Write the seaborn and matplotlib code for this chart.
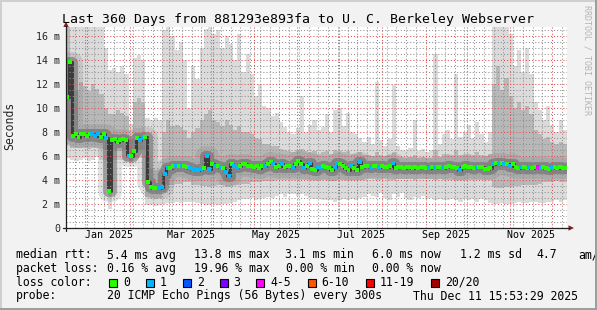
import numpy as np
import pandas as pd
import matplotlib
matplotlib.use("Agg")
import matplotlib.pyplot as plt
import seaborn as sns
from matplotlib.patches import Rectangle, Polygon
from matplotlib.lines import Line2D
from matplotlib.ticker import FixedLocator, NullFormatter

# ---------------- data ----------------
start_time = pd.Timestamp("2024-12-16 15:53:29")
span_days = 360

# median RTT (ms), one value every 2 days
median_ms = [
    10.9, 13.8, 7.7, 7.8, 7.6, 7.8, 7.8, 7.7, 7.8, 7.8, 7.7, 7.8, 7.6, 7.8, 7.5, 3.1, 7.3, 7.4, 7.2, 7.3,
    7.4, 7.3, 6.0, 6.0, 6.4, 7.5, 7.3, 7.5, 7.6, 3.8, 3.4, 3.3, 3.3, 3.3, 3.4, 4.5, 5.0, 5.0, 5.2, 5.2,
    5.2, 5.2, 5.2, 5.1, 5.0, 4.9, 4.8, 4.8, 4.9, 5.0, 6.0, 4.9, 5.3, 5.2, 5.2, 5.1, 5.0, 4.7, 4.3, 5.3,
    5.2, 5.1, 5.2, 5.3, 5.3, 5.2, 5.2, 5.1, 5.2, 5.0, 5.2, 5.2, 5.3, 5.5, 5.3, 5.1, 5.2, 5.3, 5.1, 5.2,
    5.2, 5.1, 5.3, 5.6, 5.3, 5.0, 5.2, 5.4, 4.9, 4.8, 5.1, 5.1, 5.2, 5.1, 5.0, 4.8, 5.1, 5.4, 5.3, 5.2,
    5.0, 4.8, 5.2, 5.0, 4.8, 5.5, 5.1, 5.2, 5.2, 5.1, 5.2, 5.2, 5.1, 5.2, 5.1, 5.1, 5.2, 5.4, 5.0, 5.1,
    5.1, 5.0, 5.1, 5.1, 5.0, 5.1, 5.0, 5.1, 5.1, 5.0, 5.0, 5.1, 5.0, 5.1, 5.1, 5.0, 5.1, 5.2, 5.1, 5.1,
    5.0, 4.8, 5.1, 5.2, 5.1, 5.1, 5.0, 5.1, 5.1, 5.1, 4.9, 4.9, 5.0, 5.3, 5.4, 5.3, 5.4, 5.3, 5.3, 5.2,
    5.3, 5.1, 5.0, 5.1, 5.1, 5.0, 5.1, 5.0, 5.1, 5.1, 5.0, 5.1, 5.0, 4.9, 5.0, 5.1, 5.0, 5.1, 5.0, 5.0,
]
# lost pings (of 20) for each median sample
loss_count = [
    0, 0, 0, 0, 0, 0, 0, 0, 0, 1, 1, 1, 0, 0, 1, 0, 0, 0, 0, 0,
    0, 0, 1, 0, 0, 0, 1, 1, 0, 0, 0, 0, 0, 1, 1, 1, 1, 0, 0, 1,
    0, 1, 0, 0, 1, 1, 1, 1, 1, 0, 1, 1, 0, 1, 0, 1, 0, 1, 1, 0,
    1, 1, 0, 0, 0, 0, 0, 0, 0, 0, 0, 1, 0, 0, 1, 0, 0, 1, 0, 0,
    0, 1, 0, 0, 0, 1, 0, 1, 0, 0, 1, 1, 0, 0, 0, 0, 1, 1, 0, 0,
    0, 0, 1, 0, 0, 1, 0, 0, 0, 1, 0, 0, 1, 0, 0, 0, 0, 1, 0, 0,
    0, 0, 0, 0, 0, 0, 0, 0, 0, 0, 1, 0, 1, 0, 0, 1, 0, 0, 0, 0,
    0, 1, 0, 0, 0, 0, 0, 1, 0, 0, 0, 0, 0, 1, 0, 1, 0, 1, 0, 1,
    0, 0, 0, 1, 0, 0, 1, 0, 0, 4, 1, 0, 0, 0, 1, 0, 0, 0, 0, 0,
]

# smoke envelopes (ms), one value every 3 days
smoke_hi = [
    16.8, 16.8, 16.8, 16.8, 16.8, 16.8, 16.8, 16.8, 16.8, 15.0,
    13.2, 13.3, 13.0, 13.5, 12.8, 8.7, 14.2, 14.4, 14.0, 9.2,
    9.0, 9.2, 9.0, 16.5, 16.8, 16.0, 14.8, 15.5, 14.0, 10.0,
    13.5, 12.4, 15.0, 16.6, 16.8, 16.2, 16.5, 15.0, 16.0, 15.3,
    14.0, 16.2, 13.0, 14.5, 12.8, 11.0, 12.0, 10.2, 10.0, 9.3,
    9.6, 8.8, 8.4, 8.0, 7.8, 8.3, 11.0, 8.0, 8.6, 9.0,
    8.2, 8.4, 9.5, 8.0, 9.8, 10.0, 8.5, 9.6, 8.0, 7.8,
    7.5, 7.2, 7.6, 7.0, 12.2, 7.3, 6.8, 7.4, 11.9, 6.8,
    6.5, 6.4, 6.7, 9.0, 6.4, 6.6, 6.3, 6.5, 14.5, 7.0,
    7.8, 8.2, 7.4, 12.8, 7.6, 8.0, 8.6, 7.5, 8.8, 7.8,
    7.2, 8.0, 16.8, 16.8, 16.8, 16.8, 16.2, 13.5, 14.8, 13.0,
    15.0, 12.8, 10.5, 9.8, 9.0, 10.2, 8.6, 8.0, 9.0, 8.2,
]
smoke_hi2 = [
    16.8, 12.0, 11.5, 12.2, 11.8, 11.4, 12.0, 11.6, 11.2, 10.0,
    9.5, 9.5, 9.8, 9.6, 9.3, 7.4, 10.5, 10.8, 10.4, 6.0,
    5.0, 4.8, 4.9, 8.0, 9.0, 8.5, 8.6, 8.4, 8.2, 7.5,
    8.0, 8.3, 9.0, 9.5, 9.8, 9.0, 8.8, 8.5, 9.0, 8.6,
    8.2, 8.5, 8.0, 8.0, 7.8, 7.5, 7.4, 7.0, 7.0, 6.8,
    6.8, 6.6, 6.5, 6.4, 6.3, 6.5, 6.6, 6.4, 6.3, 6.4,
    6.2, 6.3, 6.4, 6.2, 6.5, 6.4, 6.3, 6.4, 6.2, 6.2,
    6.3, 6.1, 6.1, 6.0, 6.3, 6.1, 6.0, 6.1, 6.3, 5.9,
    5.9, 5.8, 5.9, 6.1, 5.8, 5.9, 5.8, 5.8, 6.5, 5.9,
    6.2, 6.2, 6.1, 6.5, 6.1, 6.2, 6.2, 6.1, 6.3, 6.1,
    6.0, 6.2, 12.0, 13.5, 11.5, 12.5, 11.0, 10.0, 10.5, 9.8,
    10.2, 9.5, 8.2, 7.8, 7.4, 7.6, 7.2, 7.0, 7.2, 7.0,
]
smoke_lo2 = [
    7.0, 6.7, 6.7, 6.7, 6.7, 6.6, 6.7, 6.7, 6.6, 6.5,
    5.5, 6.4, 6.4, 6.4, 6.4, 5.6, 6.4, 6.5, 6.5, 2.6,
    2.5, 2.4, 2.5, 3.0, 3.6, 3.6, 3.7, 3.7, 3.8, 3.8,
    3.6, 3.6, 3.5, 3.5, 3.4, 3.5, 3.6, 3.6, 3.4, 3.5,
    3.6, 3.6, 3.7, 3.7, 3.8, 3.8, 3.8, 3.9, 3.9, 3.9,
    4.0, 4.0, 4.0, 4.0, 4.0, 4.0, 4.0, 4.0, 4.0, 4.0,
    4.0, 4.0, 4.0, 3.9, 3.9, 4.0, 4.0, 4.0, 4.0, 4.0,
    4.0, 4.0, 4.1, 4.1, 4.0, 4.0, 4.1, 4.0, 4.0, 4.1,
    4.1, 4.1, 4.1, 4.0, 4.1, 4.1, 4.1, 4.1, 4.0, 4.1,
    4.0, 4.0, 4.0, 4.0, 4.0, 4.0, 4.0, 4.0, 4.0, 4.0,
    4.0, 4.0, 3.4, 3.3, 3.3, 3.4, 3.4, 3.5, 3.5, 3.6,
    3.6, 3.6, 3.6, 3.7, 3.8, 3.8, 3.8, 3.9, 3.8, 3.8,
]
smoke_lo = [
    5.8, 5.7, 5.6, 5.7, 5.8, 5.6, 5.7, 5.9, 5.7, 5.7,
    1.6, 5.7, 5.7, 5.7, 5.6, 5.3, 5.8, 5.8, 5.8, 1.9,
    1.9, 1.8, 1.9, 2.0, 2.1, 2.1, 2.2, 2.1, 2.2, 2.2,
    2.2, 2.1, 2.0, 1.9, 1.9, 2.0, 1.9, 2.0, 2.0, 2.1,
    2.2, 2.3, 2.4, 2.4, 2.5, 2.3, 2.4, 2.5, 2.6, 2.5,
    2.7, 2.8, 2.6, 2.8, 2.8, 2.7, 2.8, 2.7, 2.5, 2.4,
    2.4, 2.3, 2.3, 2.3, 2.2, 2.3, 2.4, 2.3, 2.4, 2.3,
    2.5, 2.6, 2.8, 2.7, 2.6, 2.9, 2.5, 2.3, 2.8, 2.6,
    2.9, 2.5, 2.3, 2.6, 2.5, 2.7, 2.4, 2.5, 2.3, 2.4,
    2.3, 2.3, 2.4, 2.3, 2.2, 2.4, 2.3, 2.4, 2.2, 2.4,
    2.3, 2.1, 2.0, 2.0, 2.1, 2.0, 2.0, 2.1, 2.2, 2.1,
    2.1, 2.2, 2.2, 2.1, 2.1, 2.2, 2.2, 2.3, 2.2, 2.3,
]

y_tick_values = [0, 2, 4, 6, 8, 10, 12, 14, 16]
y_tick_labels = ["0", "2 m", "4 m", "6 m", "8 m", "10 m", "12 m", "14 m", "16 m"]
x_label_months = ["2025-01", "2025-03", "2025-05", "2025-07", "2025-09", "2025-11"]
x_label_texts = ["Jan 2025", "Mar 2025", "May 2025", "Jul 2025", "Sep 2025", "Nov 2025"]

loss_names = ["0", "1", "2", "3", "4-5", "6-10", "11-19", "20/20"]
loss_colors = ["#26ff00", "#00b8ff", "#0059ff", "#7e00ff", "#ff00ff", "#ff5500", "#ff0000", "#a10000"]

title_text = "Last 360 Days from 881293e893fa to U. C. Berkeley Webserver"
legend_rows = [
    [("median rtt:", 16), ("5.4 ms avg", 107.3), ("13.8 ms max", 194.3), ("3.1 ms min", 285),
     ("6.0 ms now", 371.7), ("1.2 ms sd", 459.5), ("4.7", 536), ("am/s", 578.3)],
    [("packet loss:", 16), ("0.16 % avg", 107.3), ("19.96 % max", 194.3), ("0.00 % min", 285.5),
     ("0.00 % now", 372.5)],
    [("loss color:", 16)],
    [("probe:", 16), ("20 ICMP Echo Pings (56 Bytes) every 300s", 107.3),
     ("Thu Dec 11 15:53:29 2025", 413.3)],
]
legend_row_y = [255, 268.3, 282.3, 296]
loss_box_x = [108.5, 146, 183, 219.5, 256, 307.5, 366, 431]
loss_text_x = [123, 160, 196.7, 233.3, 270, 321.7, 380, 445]

# ---------------- style ----------------
sns.set_style("white")
plt.rcParams["font.family"] = ["DejaVu Sans Mono", "DejaVu Sans"]

W, H = 597, 310
BG = "#f2f2f2"
GRID = (0.56, 0.56, 0.56, 0.55)
MGRID = (0.87, 0.31, 0.31, 0.5)
TICK_G = (0.56, 0.56, 0.56, 0.8)
TICK_R = (0.87, 0.31, 0.31, 0.8)
ARROW = "#801f1f"
AXIS = "#1f1f1f"

def fx(x):
    return x / W

def fy(y):
    return 1 - y / H

fig = plt.figure(figsize=(W / 100, H / 100), dpi=100, facecolor=BG)
ax = fig.add_axes([fx(66), fy(228), 501 / W, 201 / H])
ax.set_facecolor("white")

def day_of(ts):
    return (pd.Timestamp(ts) - start_time) / pd.Timedelta(days=1)

# ---------------- smoke ----------------
n_s = len(smoke_hi)
edges = np.arange(n_s + 1) * (span_days / n_s)
def ext(v):
    return np.append(np.asarray(v, float), v[-1])

ax.fill_between(edges, ext(smoke_lo), ext(smoke_hi), step="post", color="#dbdbdb", lw=0, zorder=1)
ax.fill_between(edges, ext(smoke_lo2), ext(smoke_hi2), step="post", color="#b8b8b8", lw=0, zorder=1.1)

# ---------------- median ----------------
n_m = len(median_ms)
med_days = (np.arange(n_m) + 0.5) * (span_days / n_m)
loss_label = []
for c in loss_count:
    if c == 0:
        loss_label.append("0")
    elif c <= 3:
        loss_label.append(str(c))
    elif c <= 5:
        loss_label.append("4-5")
    elif c <= 10:
        loss_label.append("6-10")
    elif c <= 19:
        loss_label.append("11-19")
    else:
        loss_label.append("20/20")
df = pd.DataFrame({"day": med_days, "ms": median_ms, "loss": loss_label})

sns.lineplot(data=df, x="day", y="ms", ax=ax, color="#7a7a7a", lw=15, alpha=0.22,
             drawstyle="steps-mid", estimator=None, zorder=1.4, legend=False)
sns.lineplot(data=df, x="day", y="ms", ax=ax, color="#555555", lw=8, alpha=0.45,
             drawstyle="steps-mid", estimator=None, zorder=1.5, legend=False)
sns.lineplot(data=df, x="day", y="ms", ax=ax, color="#333333", lw=2.2, alpha=0.9,
             drawstyle="steps-mid", estimator=None, zorder=1.6, legend=False)
sns.scatterplot(data=df, x="day", y="ms", hue="loss", ax=ax,
                palette=dict(zip(loss_names, loss_colors)), marker="s", s=8,
                linewidth=0, legend=False, zorder=4)

# ---------------- axes / grid ----------------
ax.set_xlim(0, span_days)
ax.set_ylim(0, 16.75)
ax.set_xlabel("")
ax.set_ylabel("")

month_starts = pd.date_range("2025-01-01", "2025-12-01", freq="MS")
week_starts = pd.date_range("2024-12-23", "2025-12-08", freq="7D")
ax.xaxis.set_major_locator(FixedLocator([day_of(m) for m in month_starts]))
ax.xaxis.set_minor_locator(FixedLocator([day_of(w) for w in week_starts]))
ax.xaxis.set_major_formatter(NullFormatter())
ax.yaxis.set_major_locator(FixedLocator(y_tick_values))
ax.yaxis.set_minor_locator(FixedLocator(np.arange(0.5, 16.75, 0.5)))
ax.set_yticklabels(y_tick_labels)

ax.set_axisbelow(False)
dots = (0, (1, 2))
ax.grid(True, which="minor", axis="both", color=GRID, linestyle=dots, linewidth=0.75)
ax.grid(True, which="major", axis="both", color=MGRID, linestyle=dots, linewidth=0.75)

ax.tick_params(axis="x", which="major", direction="inout", length=4, width=0.7, color=TICK_R)
ax.tick_params(axis="x", which="minor", direction="inout", length=3, width=0.7, color=TICK_G)
ax.tick_params(axis="y", which="major", direction="inout", length=5, width=0.7, color=TICK_R,
               labelsize=7.2, pad=1.5)
ax.tick_params(axis="y", which="minor", direction="inout", length=3, width=0.7, color=TICK_G)

for s in ["top", "right", "left", "bottom"]:
    ax.spines[s].set_visible(False)

for m, t in zip(x_label_months, x_label_texts):
    m0 = pd.Timestamp(m + "-01")
    m1 = m0 + pd.offsets.MonthBegin(1)
    mid = day_of(m0) + (m1 - m0) / pd.Timedelta(days=1) / 2
    ax.text(mid, -0.012, t, transform=ax.get_xaxis_transform(), ha="center", va="top",
            fontsize=7.2, color="black", clip_on=False)

# axis lines + arrows (figure pixel coordinates)
fig.add_artist(Line2D([fx(63), fx(569)], [fy(228), fy(228)], color=AXIS, lw=0.9))
fig.add_artist(Line2D([fx(66), fx(66)], [fy(231), fy(26)], color=AXIS, lw=0.9))
fig.add_artist(Polygon([(fx(568.5), fy(225.3)), (fx(568.5), fy(230.7)), (fx(574), fy(228))],
                       closed=True, color=ARROW, lw=0))
fig.add_artist(Polygon([(fx(63.3), fy(27)), (fx(68.7), fy(27)), (fx(66), fy(21.5))],
                       closed=True, color=ARROW, lw=0))

# ---------------- texts ----------------
fig.text(fx(298.5), fy(19), title_text, ha="center", va="center", fontsize=9.5, color="black")
fig.text(fx(10), fy(126), "Seconds", rotation=90, ha="center", va="center", fontsize=8.3)
fig.text(fx(586.5), fy(60), "RRDTOOL / TOBI OETIKER", rotation=270, ha="center", va="center",
         fontsize=6, color="#b4b4b4")

for row, yy in zip(legend_rows, legend_row_y):
    for txt, xx in row:
        fig.text(fx(xx), fy(yy), txt, ha="left", va="center", fontsize=8.3, color="black")

for bx, tx, name, col in zip(loss_box_x, loss_text_x, loss_names, loss_colors):
    fig.add_artist(Rectangle((fx(bx), fy(286.5)), 8 / W, 8 / H, facecolor=col,
                             edgecolor="black", lw=0.8))
    fig.text(fx(tx), fy(282.3), name, ha="left", va="center", fontsize=8.3, color="black")

# ---------------- 3D frame ----------------
fig.add_artist(Rectangle((0, fy(2)), 1, 2 / H, color="#cfcfcf", lw=0, zorder=10))
fig.add_artist(Rectangle((0, 0), 2 / W, 1, color="#cfcfcf", lw=0, zorder=10))
fig.add_artist(Rectangle((fx(595), 0), 2 / W, 1, color="#9e9e9e", lw=0, zorder=11))
fig.add_artist(Rectangle((0, 0), 1, 2 / H, color="#9e9e9e", lw=0, zorder=11))

fig.savefig("out.png", dpi=100, facecolor=BG)
